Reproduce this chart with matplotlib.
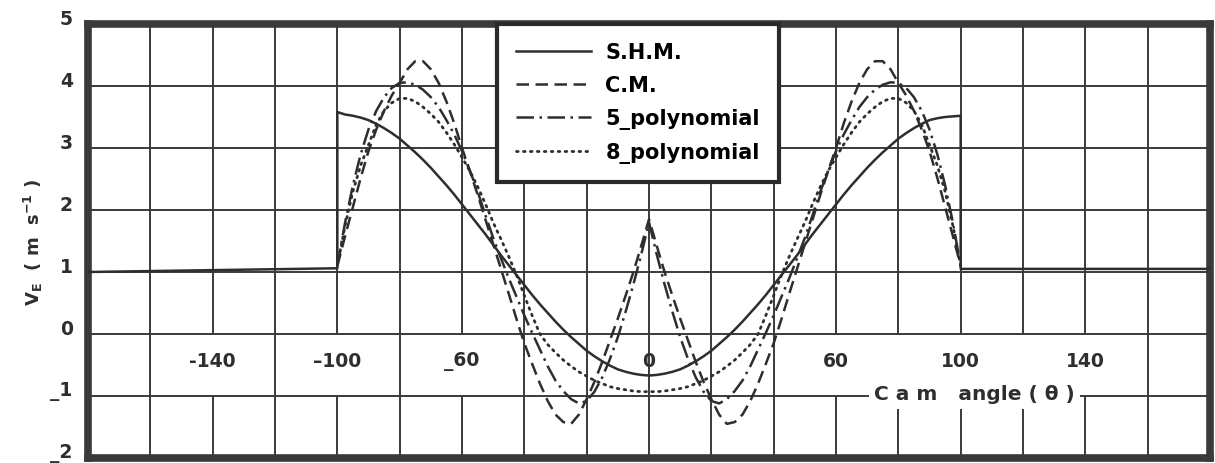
import matplotlib
matplotlib.use('Agg')
import matplotlib.pyplot as plt
import matplotlib.transforms as mtransforms

plt.rcParams['font.family'] = ['DejaVu Sans']
plt.rcParams['mathtext.fontset'] = 'dejavusans'

# ---------------- data ----------------
angle = [-100, -97.5, -95, -92.5, -90, -87.5, -85, -82.5, -80, -77.5, -75, -72.5,
         -70, -67.5, -65, -62.5, -60, -57.5, -55, -52.5, -50, -47.5, -45, -42.5,
         -40, -37.5, -35, -32.5, -30, -27.5, -25, -22.5, -20, -17.5, -15, -12.5,
         -10, -7.5, -5, -2.5, 0, 2.5, 5, 7.5, 10, 12.5, 15, 17.5, 20, 22.5, 25,
         27.5, 30, 32.5, 35, 37.5, 40, 42.5, 45, 47.5, 50, 52.5, 55, 57.5, 60,
         62.5, 65, 67.5, 70, 72.5, 75, 77.5, 80, 82.5, 85, 87.5, 90, 92.5, 95,
         97.5, 100]

shm = [3.58, 3.54, 3.52, 3.49, 3.45, 3.39, 3.32, 3.24, 3.15, 3.04, 2.93, 2.81, 2.68,
       2.54, 2.40, 2.25, 2.09, 1.93, 1.77, 1.61, 1.44, 1.27, 1.11, 0.95, 0.79, 0.63,
       0.48, 0.34, 0.20, 0.07, -0.05, -0.16, -0.27, -0.36, -0.44, -0.51, -0.57,
       -0.61, -0.64, -0.66,
       -0.67,
       -0.66, -0.64, -0.61, -0.57, -0.51, -0.44, -0.36, -0.27, -0.16, -0.05, 0.07,
       0.20, 0.34, 0.48, 0.63, 0.79, 0.95, 1.11, 1.27, 1.44, 1.61, 1.77, 1.93, 2.09,
       2.25, 2.40, 2.54, 2.68, 2.81, 2.93, 3.04, 3.15, 3.24, 3.32, 3.39, 3.45, 3.48,
       3.50, 3.51, 3.52]

cm = [1.10, 1.58, 2.05, 2.52, 2.95, 3.30, 3.60, 3.85, 4.05, 4.27, 4.40, 4.40, 4.27,
      4.05, 3.75, 3.40, 3.00, 2.63, 2.25, 1.85, 1.45, 1.05, 0.65, 0.24, -0.15,
      -0.48, -0.80, -1.08, -1.30, -1.42, -1.45, -1.30, -1.05, -0.77, -0.45, -0.10,
      0.25, 0.62, 1.00, 1.42,
      1.85,
      1.42, 1.00, 0.62, 0.25, -0.10, -0.45, -0.77, -1.05, -1.30, -1.45, -1.42,
      -1.30, -1.08, -0.80, -0.48, -0.15, 0.24, 0.65, 1.05, 1.45, 1.85, 2.25, 2.63,
      3.00, 3.40, 3.75, 4.05, 4.27, 4.40, 4.40, 4.27, 4.05, 3.85, 3.60, 3.30, 2.95,
      2.52, 2.05, 1.58, 1.10]

poly5 = [1.10, 1.80, 2.40, 2.90, 3.30, 3.60, 3.82, 3.97, 4.05, 4.06, 4.02, 3.94,
         3.82, 3.66, 3.45, 3.22, 2.95, 2.64, 2.30, 1.92, 1.55, 1.22, 0.90, 0.60,
         0.30, 0.02, -0.25, -0.52, -0.75, -0.92, -1.05, -1.12, -1.08, -0.93, -0.70,
         -0.40, -0.05, 0.36, 0.80, 1.28,
         1.80,
         1.28, 0.80, 0.36, -0.05, -0.40, -0.70, -0.93, -1.08, -1.12, -1.05, -0.92,
         -0.75, -0.52, -0.25, 0.02, 0.30, 0.60, 0.90, 1.22, 1.55, 1.92, 2.30, 2.64,
         2.95, 3.22, 3.45, 3.66, 3.82, 3.94, 4.02, 4.06, 4.05, 3.97, 3.82, 3.60,
         3.30, 2.90, 2.40, 1.80, 1.10]

poly8 = [1.10, 1.75, 2.30, 2.72, 3.05, 3.38, 3.60, 3.73, 3.80, 3.80, 3.75, 3.66,
         3.55, 3.42, 3.25, 3.06, 2.85, 2.63, 2.38, 2.10, 1.80, 1.53, 1.25, 0.95,
         0.62, 0.30, 0.00, -0.17, -0.30, -0.42, -0.52, -0.61, -0.68, -0.75, -0.80,
         -0.85, -0.88, -0.90, -0.92, -0.93,
         -0.93,
         -0.93, -0.92, -0.90, -0.88, -0.85, -0.80, -0.75, -0.68, -0.61, -0.52, -0.42,
         -0.30, -0.17, 0.00, 0.30, 0.62, 0.95, 1.25, 1.53, 1.80, 2.10, 2.38, 2.63,
         2.85, 3.06, 3.25, 3.42, 3.55, 3.66, 3.75, 3.80, 3.80, 3.73, 3.60, 3.38,
         3.05, 2.72, 2.30, 1.75, 1.10]

dwell_left_x = [-180, -100]
dwell_left_y = [1.00, 1.06]
dwell_right_x = [100, 180]
dwell_right_y = [1.05, 1.05]

xtick_vals = [-140, -100, -60, 0, 60, 100, 140]
xtick_labels = ['-140', '\u2013100', '_60', '0', '60', '100', '140']
ytick_vals = [-2, -1, 0, 1, 2, 3, 4, 5]
ytick_labels = ['_2', '_1', '0', '1', '2', '3', '4', '5']
labels = ['S.H.M.', 'C.M.', '5_polynomial', '8_polynomial']

# ---------------- figure ----------------
W, H = 1215, 463
fig = plt.figure(figsize=(W / 100, H / 100), dpi=100)
fig.patch.set_facecolor('white')
ax = fig.add_axes([88 / W, 1 - 458 / H, 1122 / W, 434 / H])
ax.set_xlim(-180, 180)
ax.set_ylim(-2, 5)

ink = '#2e2e2e'
grid_c = '#3a3a3a'

# grid (vertical lines broken in the tick-label band)
broken = {-140, -100, -60, 60, 80, 100, 120, 140}
for gx in range(-160, 180, 20):
    if gx in broken:
        ax.vlines(gx, 0, 5, color=grid_c, lw=1.4, zorder=1)
        ax.vlines(gx, -2, -1, color=grid_c, lw=1.4, zorder=1)
    else:
        ax.vlines(gx, -2, 5, color=grid_c, lw=1.4, zorder=1)
for gy in range(-1, 5):
    ax.hlines(gy, -180, 180, color=grid_c, lw=1.4, zorder=1)

# curves
shm_x = dwell_left_x + angle + dwell_right_x
shm_y = dwell_left_y + shm + dwell_right_y
l1, = ax.plot(shm_x, shm_y, color=ink, lw=1.8, zorder=4, label=labels[0])
l2, = ax.plot(angle, cm, color=ink, lw=1.8, ls=(0, (5, 2.6)), zorder=4,
              label=labels[1])
l3, = ax.plot(angle, poly5, color=ink, lw=1.8, ls=(0, (7, 2.2, 1, 2.2)), zorder=4,
              label=labels[2])
l4, = ax.plot(angle, poly8, color=ink, lw=2.0, ls=(0, (0.6, 1.9)),
              dash_capstyle='round', zorder=4, label=labels[3])

# x tick labels inside the plot
for xv, xl in zip(xtick_vals, xtick_labels):
    ax.text(xv, -0.45, xl, ha='center', va='center', fontsize=13.5,
            fontweight='bold', color=ink, zorder=3)

# x-axis title sitting on the y=-1 line
ax.text(104.5, -0.98, 'C a m   angle ( \u03b8 )', ha='center', va='center',
        fontsize=14.5, fontweight='bold', color=ink, zorder=3,
        bbox=dict(boxstyle='square,pad=0.25', fc='white', ec='none'))

# y ticks
ax.set_xticks([])
ax.set_yticks(ytick_vals)
ax.set_yticklabels(ytick_labels, fontsize=13.5, fontweight='bold', color=ink)
ax.tick_params(axis='y', length=0, pad=11)
off = mtransforms.ScaledTranslation(0, 5 / 72, fig.dpi_scale_trans)
for t in ax.get_yticklabels():
    t.set_transform(t.get_transform() + off)

fig.text(33 / W, 1 - 242 / H, r'$\mathbf{V_E}$  ( m  s$^{\mathbf{-1}}$ )',
         rotation=90, ha='center', va='center', fontsize=13, fontweight='bold',
         color=ink)

for sp in ax.spines.values():
    sp.set_linewidth(5.5)
    sp.set_color('#3a3a3a')

leg = ax.legend(handles=[l1, l2, l3, l4], loc='upper left',
                bbox_to_anchor=(409 / 1122, 1.0), borderaxespad=0,
                prop={'weight': 'bold', 'size': 15}, handlelength=3.6,
                handletextpad=0.7, labelspacing=0.62, borderpad=0.9,
                fancybox=False, framealpha=1, edgecolor='#2a2a2a',
                facecolor='white')
leg.get_frame().set_linewidth(3)
leg.set_zorder(10)

fig.savefig('out.png', dpi=100, facecolor='white')
